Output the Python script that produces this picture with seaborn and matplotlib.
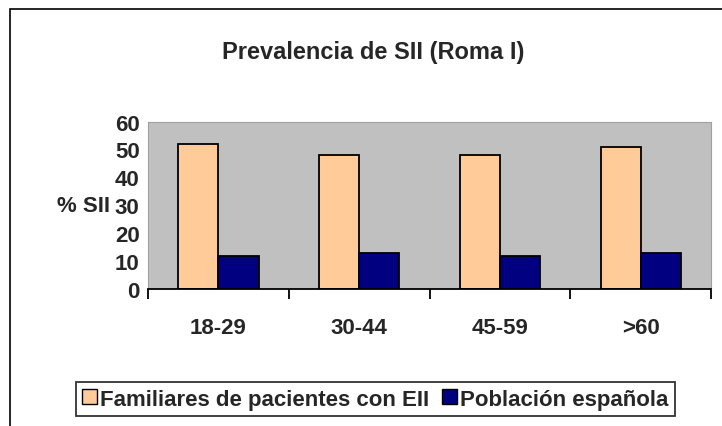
import numpy as np
import pandas as pd
import seaborn as sns
import matplotlib.pyplot as plt
from matplotlib.patches import Rectangle

# data
age_groups = ['18-29', '30-44', '45-59', '>60']
familiares = [52, 48, 48, 50.7]
poblacion = [11.7, 13, 11.7, 13]
series_names = ['Familiares de pacientes con EII', 'Población española']
y_ticks = [0, 10, 20, 30, 40, 50, 60]

df = pd.DataFrame({
    'Edad': age_groups * 2,
    'Grupo': [series_names[0]] * 4 + [series_names[1]] * 4,
    'Valor': familiares + poblacion,
})

sns.set_style('white')
plt.rcParams['font.family'] = ['Liberation Sans', 'DejaVu Sans']
plt.rcParams['font.weight'] = 'bold'

fig = plt.figure(figsize=(7.22, 4.27), dpi=100)
ax = fig.add_axes([0.205, 0.321, 0.78, 0.392])
ax.set_facecolor('#C0C0C0')

sns.barplot(data=df, x='Edad', y='Valor', hue='Grupo', order=age_groups,
            hue_order=series_names, palette=['#FFCC99', '#000080'],
            width=0.57, gap=0, edgecolor='black', linewidth=1.3,
            saturation=1, errorbar=None, legend=False, ax=ax)

ax.set_xlim(-0.5, 3.5)
ax.set_ylim(0, 60)
ax.set_yticks(y_ticks)
ax.set_yticklabels([str(v) for v in y_ticks], fontsize=16, fontweight='bold')
ax.tick_params(axis='y', length=0, pad=6)

# category labels, tick marks on the boundaries
ax.set_xticks(range(len(age_groups)))
ax.set_xticklabels(age_groups, fontsize=16, fontweight='bold')
ax.set_xticks(np.arange(-0.5, 4, 1), minor=True)
ax.tick_params(axis='x', which='major', length=0, pad=20)
ax.tick_params(axis='x', which='minor', length=7, width=1.3, color='black',
               direction='out', bottom=True)

for side in ['top', 'right', 'left']:
    ax.spines[side].set_color('#A0A0A0')
    ax.spines[side].set_linewidth(0.8)
ax.spines['bottom'].set_color('black')
ax.spines['bottom'].set_linewidth(1.3)

ax.set_xlabel('')
ax.set_ylabel('% SII', fontsize=16, fontweight='bold', rotation=0,
              ha='right', va='center')
ax.yaxis.set_label_coords(-0.068, 0.5)

fig.text(0.517, 0.878, 'Prevalencia de SII (Roma I)', fontsize=17,
         fontweight='bold', ha='center', va='center')

# legend box at the bottom
handles = [Rectangle((0, 0), 1, 1, facecolor=c, edgecolor='black', linewidth=1)
           for c in ['#FFCC99', '#000080']]
leg = fig.legend(handles, series_names, loc='center', ncol=2,
                 bbox_to_anchor=(0.52, 0.063), fontsize=16, frameon=True,
                 fancybox=False, edgecolor='black', handlelength=0.65,
                 handleheight=0.65, handletextpad=0.15, columnspacing=0.6,
                 borderpad=0.3, borderaxespad=0)
leg.get_frame().set_linewidth(1.3)
for t in leg.get_texts():
    t.set_fontweight('bold')

# outer chart border (only left and top edges visible)
fig.patches.append(Rectangle((10 / 722, -0.1), 1.2, 1.0 - 10 / 427 + 0.1,
                             transform=fig.transFigure, fill=False,
                             edgecolor='black', linewidth=1.2))

fig.savefig('out.png', dpi=100)
